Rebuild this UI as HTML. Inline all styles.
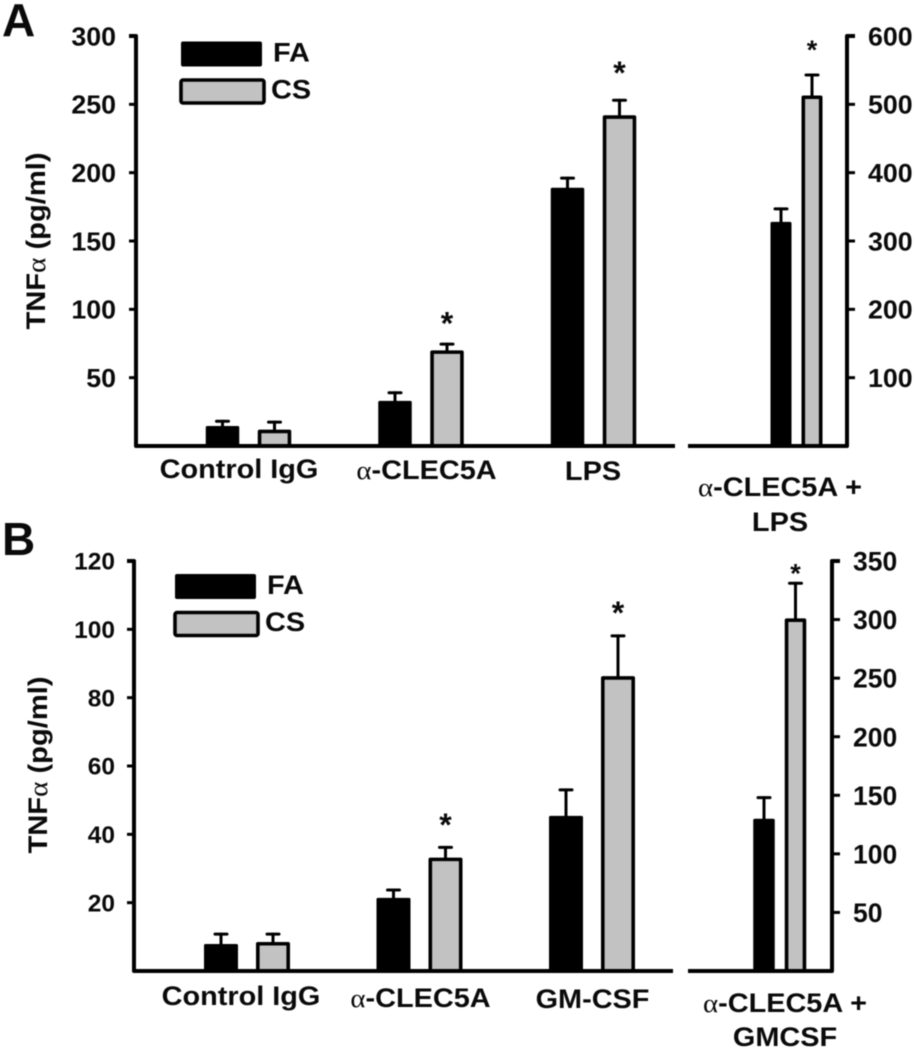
<!DOCTYPE html>
<html>
<head>
<meta charset="utf-8">
<title>TNF alpha bar charts</title>
<style>
html,body{margin:0;padding:0;background:#fff;}
svg{display:block;filter:blur(0.6px);}
text{font-family:"Liberation Sans",Arial,sans-serif;font-weight:700;fill:#0a0a0a;}
</style>
</head>
<body>
<svg id="figure" xmlns="http://www.w3.org/2000/svg" width="915" height="1050" viewBox="0 0 915 1050">
  <rect x="0" y="0" width="915" height="1050" fill="#fff"/>
  <g id="panelA"></g>
  <g id="panelB"></g>
</svg>
<script>
// ---- Panel A data ----
const categoriesA = ["Control IgG", "α-CLEC5A", "LPS"];
const faA = [14.6, 33, 189];
const csA = [12, 70, 242];
const faErrA = [3.5, 6, 7];
const csErrA = [5.5, 4.5, 11];
const starsA = [null, 92, 275];
const extraCategoryA = ["α-CLEC5A +", "LPS"];
const extraFaA = [328];
const extraCsA = [513];
const extraFaErrA = [19];
const extraCsErrA = [30];
const extraStarsA = [584];
const leftTicksA = [50, 100, 150, 200, 250, 300];
const rightTicksA = [100, 200, 300, 400, 500, 600];

// ---- Panel B data ----
const categoriesB = ["Control IgG", "α-CLEC5A", "GM-CSF"];
const faB = [7.9, 21.4, 45.4];
const csB = [8.5, 33.2, 86.3];
const faErrB = [2.9, 2.3, 7.6];
const csErrB = [2.3, 3, 11.8];
const starsB = [null, 43.6, 105.7];
const extraCategoryB = ["α-CLEC5A +", "GMCSF"];
const extraFaB = [130];
const extraCsB = [301];
const extraFaErrB = [18];
const extraCsErrB = [30];
const extraStarsB = [342];
const leftTicksB = [20, 40, 60, 80, 100, 120];
const rightTicksB = [50, 100, 150, 200, 250, 300, 350];

const legendLabels = ["FA", "CS"];
const yAxisTitle = "TNFα (pg/ml)";

const NS = "http://www.w3.org/2000/svg";
const STROKE = 4;
const GREY = "#c2c2c2";

function mk(parent, tag, attrs) {
  const el = document.createElementNS(NS, tag);
  for (const k in attrs) { el.setAttribute(k, attrs[k]); }
  parent.appendChild(el);
  return el;
}

function linear(maxValue, yTop, yBase) {
  return function (v) { return yBase - (v / maxValue) * (yBase - yTop); };
}

function label(parent, str, x, y, anchor, size, sx, rot) {
  const t = mk(parent, "text", {
    "text-anchor": anchor,
    "font-size": size,
    transform: "translate(" + x + "," + y + ")" + (rot ? " rotate(" + rot + ")" : "") + " scale(" + sx + ",1)"
  });
  const parts = str.split("α");
  parts.forEach(function (part, i) {
    if (i > 0) {
      const a = mk(t, "tspan", { style: "font-weight:400;font-family:'Liberation Serif',serif" });
      a.textContent = "α";
    }
    if (part) {
      const s = mk(t, "tspan", {});
      s.textContent = part;
    }
  });
  return t;
}

function drawBar(parent, cx, width, yVal, yBase, kind) {
  let el;
  if (kind === "fa") {
    el = mk(parent, "rect", { x: cx - width / 2, y: yVal, width: width, height: yBase - yVal, fill: "#000", rx: 1.5 });
  } else {
    el = mk(parent, "rect", { x: cx - width / 2 + 1.8, y: yVal + 1.8, width: width - 3.6, height: yBase - yVal - 1.8, fill: GREY, stroke: "#000", "stroke-width": 3.6, "stroke-linejoin": "round" });
  }
  return el;
}

function drawError(parent, cx, yVal, yTop) {
  const g = mk(parent, "g", { stroke: "#000", "stroke-width": 3, "stroke-linecap": "round", fill: "none" });
  mk(g, "line", { x1: cx, x2: cx, y1: yVal, y2: yTop });
  mk(g, "line", { x1: cx - 6, x2: cx + 6, y1: yTop, y2: yTop });
  return g;
}

function drawStar(parent, cx, y, size) {
  return label(parent, "*", cx, y + size * 0.44, "middle", size, 1, 0);
}

function drawPanel(root, p) {
  const yL = linear(p.leftMax, p.yTop, p.yBase);
  const yR = linear(p.rightMax, p.yTop, p.yBase);

  // letter
  const letter = label(root, p.letter, p.letterX, p.letterY, "start", 46, 1, 0);
  
  

  // main bars
  p.categories.forEach(function (cat, i) {
    const center = p.groupStart + p.groupStep * i;
    const cxFa = center - p.offset;
    const cxCs = center + p.offset;

    const e1 = drawError(root, cxFa, yL(p.fa[i]), yL(p.fa[i] + p.faErr[i]));
    
    

    const e2 = drawError(root, cxCs, yL(p.cs[i]), yL(p.cs[i] + p.csErr[i]));
    
    

    const b1 = drawBar(root, cxFa, p.barW, yL(p.fa[i]), p.yBase, "fa");
    
    

    const b2 = drawBar(root, cxCs, p.barW, yL(p.cs[i]), p.yBase, "cs");
    
    

    if (p.stars[i] !== null) {
      const s = drawStar(root, cxCs, yL(p.stars[i]), 32);
      
      
    }
  });

  // secondary-axis bars
  const e3 = drawError(root, p.extraFaX, yR(p.extraFa[0]), yR(p.extraFa[0] + p.extraFaErr[0]));
  
  

  const e4 = drawError(root, p.extraCsX, yR(p.extraCs[0]), yR(p.extraCs[0] + p.extraCsErr[0]));
  
  

  const b3 = drawBar(root, p.extraFaX, p.extraW, yR(p.extraFa[0]), p.yBase, "fa");
  
  

  const b4 = drawBar(root, p.extraCsX, p.extraW, yR(p.extraCs[0]), p.yBase, "cs");
  
  

  const s2 = drawStar(root, p.extraCsX, yR(p.extraStars[0]), 27);
  
  

  // axes
  const axisAttrs = { stroke: "#000", "stroke-width": STROKE, fill: "none", "stroke-linejoin": "round" };
  const leftAxis = mk(root, "path", Object.assign({ d: "M" + (p.leftX - 7) + " " + p.yTop + "H" + p.leftX + "V" + p.yBase + "H" + p.baseEnd }, axisAttrs));
  
  

  const rightAxis = mk(root, "path", Object.assign({ d: "M" + p.rightStart + " " + p.yBase + "H" + p.rightX + "V" + p.yTop + "H" + (p.rightX + 8) }, axisAttrs));
  
  

  // ticks
  p.leftTicks.forEach(function (v) {
    const y = yL(v);
    const tick = mk(root, "line", { x1: p.leftX - 7, x2: p.leftX, y1: y, y2: y, stroke: "#000", "stroke-width": 3 });
    
    
    const tl = label(root, String(v), p.leftLabelX, y + p.leftFont * 0.36, "end", p.leftFont, p.leftSx, 0);
    
    
  });
  p.rightTicks.forEach(function (v) {
    const y = yR(v);
    const tick = mk(root, "line", { x1: p.rightX, x2: p.rightX + 8, y1: y, y2: y, stroke: "#000", "stroke-width": 3 });
    
    
    const tl = label(root, String(v), p.rightLabelX, y + p.rightFont * 0.36, "start", p.rightFont, p.rightSx, 0);
    
    
  });

  // axis title
  const title = label(root, yAxisTitle, p.titleX, p.titleY, "middle", 26.5, p.titleSx, -90);
  
  

  // legend
  const lg = mk(root, "g", {});
  
  

  const sw1 = mk(lg, "rect", { x: p.legendX + 1, y: p.legendY, width: 81, height: 25, fill: "#000", rx: 2 });
  
  

  const sw2 = mk(lg, "rect", { x: p.legendX + 1, y: p.legendY + 38.5, width: 83, height: 23, fill: GREY, stroke: "#000", "stroke-width": 3.6, rx: 2 });
  
  

  const lt1 = label(lg, legendLabels[0], p.legendX + 93, p.legendY + 20, "start", 26.5, 1.09, 0);
  
  

  const lt2 = label(lg, legendLabels[1], p.legendX + 91, p.legendY + 57, "start", 26.5, 1.09, 0);
  
  
}

function categoryLabel(root, str, x, y) {
  const t = label(root, str, x, y, "middle", 26.5, 1.09, 0);
  
  
}

const rootA = document.getElementById("panelA");
const rootB = document.getElementById("panelB");

drawPanel(rootA, {
  letter: "A", letterX: 2, letterY: 36,
  yTop: 36, yBase: 446, leftMax: 300, rightMax: 600,
  leftX: 136, baseEnd: 675, rightStart: 688, rightX: 847,
  leftLabelX: 116, rightLabelX: 868,
  leftFont: 26, leftSx: 1.03, rightFont: 26, rightSx: 1.03,
  groupStart: 248.5, groupStep: 172.5, offset: 26, barW: 33.5,
  extraFaX: 781, extraCsX: 812, extraW: 21,
  titleX: 45, titleY: 241, titleSx: 1.1,
  legendX: 180, legendY: 41.5,
  categories: categoriesA, fa: faA, cs: csA, faErr: faErrA, csErr: csErrA, stars: starsA,
  extraFa: extraFaA, extraCs: extraCsA, extraFaErr: extraFaErrA, extraCsErr: extraCsErrA, extraStars: extraStarsA,
  leftTicks: leftTicksA, rightTicks: rightTicksA
});
categoryLabel(rootA, categoriesA[0], 239, 478);
categoryLabel(rootA, categoriesA[1], 426.5, 479);
categoryLabel(rootA, categoriesA[2], 593, 480);
categoryLabel(rootA, extraCategoryA[0], 780, 496);
categoryLabel(rootA, extraCategoryA[1], 780, 531);

drawPanel(rootB, {
  letter: "B", letterX: 2, letterY: 555,
  yTop: 561, yBase: 971, leftMax: 120, rightMax: 350,
  leftX: 134, baseEnd: 673, rightStart: 688, rightX: 832,
  leftLabelX: 115, rightLabelX: 853,
  leftFont: 24, leftSx: 1.02, rightFont: 26.5, rightSx: 1,
  groupStart: 247, groupStep: 172.5, offset: 26, barW: 34,
  extraFaX: 764, extraCsX: 795.5, extraW: 21.5,
  titleX: 47, titleY: 765, titleSx: 1.1,
  legendX: 174, legendY: 574,
  categories: categoriesB, fa: faB, cs: csB, faErr: faErrB, csErr: csErrB, stars: starsB,
  extraFa: extraFaB, extraCs: extraCsB, extraFaErr: extraFaErrB, extraCsErr: extraCsErrB, extraStars: extraStarsB,
  leftTicks: leftTicksB, rightTicks: rightTicksB
});
categoryLabel(rootB, categoriesB[0], 241, 1005);
categoryLabel(rootB, categoriesB[1], 420.5, 1007);
categoryLabel(rootB, categoriesB[2], 592.5, 1008);
categoryLabel(rootB, extraCategoryB[0], 785, 1012);
categoryLabel(rootB, extraCategoryB[1], 785, 1046);
</script>
</body>
</html>
